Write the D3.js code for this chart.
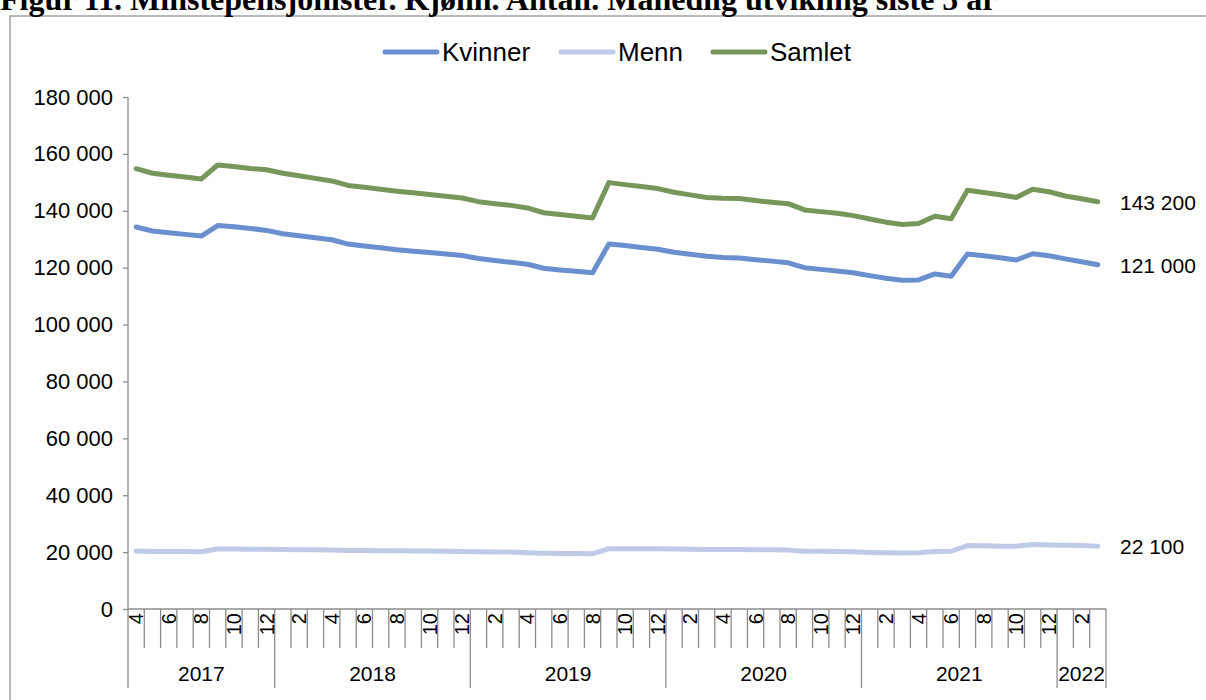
<!DOCTYPE html>
<html>
<head>
<meta charset="utf-8">
<script src="https://cdn.jsdelivr.net/npm/d3@7.9.0/dist/d3.min.js"></script>
<style>
  body { margin: 0; background: #fff; }
  svg { display: block; }
  text { font-family: "Liberation Sans", Arial, sans-serif; fill: #000; }
</style>
</head>
<body>
<svg width="1206" height="700"></svg>
<script>
// months Apr 2017 - Mar 2022
const months = [4,5,6,7,8,9,10,11,12,
  1,2,3,4,5,6,7,8,9,10,11,12,
  1,2,3,4,5,6,7,8,9,10,11,12,
  1,2,3,4,5,6,7,8,9,10,11,12,
  1,2,3,4,5,6,7,8,9,10,11,12,
  1,2,3];
const years = ['2017', '2018', '2019', '2020', '2021', '2022'];
const yearLengths = [9, 12, 12, 12, 12, 3];

const kvinner = [134300,132900,132300,131700,131100,134800,134400,133800,133100,
  131900,131200,130500,129800,128300,127600,127000,126300,125800,125300,124800,124300,
  123200,122500,121900,121200,119800,119200,118700,118200,128300,127800,127100,126500,
  125400,124700,124000,123600,123400,122800,122300,121700,120000,119400,118800,118200,
  117200,116300,115600,115700,117800,117000,124800,124200,123500,122700,124900,124200,
  123100,122100,121000];
const menn = [20400,20200,20200,20200,20100,21100,21100,21000,21000,
  20900,20800,20800,20700,20600,20600,20500,20500,20400,20400,20300,20200,
  20100,20000,20000,19800,19600,19500,19500,19400,21200,21200,21200,21200,
  21100,21000,20900,20900,20900,20800,20800,20700,20300,20300,20200,20100,
  19900,19800,19700,19800,20200,20300,22300,22200,22100,22100,22700,22500,
  22400,22300,22100];
const samlet = [154800,153200,152500,151900,151200,156100,155600,154900,154400,
  153200,152300,151400,150500,148900,148300,147600,146900,146300,145700,145100,144500,
  143200,142500,141900,141000,139300,138700,138100,137500,149900,149200,148500,147800,
  146500,145600,144700,144400,144300,143600,143000,142500,140300,139700,139100,138300,
  137100,136000,135200,135500,138100,137200,147200,146400,145600,144700,147600,146700,
  145200,144200,143200];

const seriesNames = ['Kvinner', 'Menn', 'Samlet'];
const endLabels = ['121 000', '22 100', '143 200'];
const yTicks = [0, 20000, 40000, 60000, 80000, 100000, 120000, 140000, 160000, 180000];

const colors = ['#6a8fce', '#bfcae8', '#77975a'];
const allSeries = [kvinner, menn, samlet];

const svg = d3.select('svg');
const plotLeft = 128, plotRight = 1106, plotTop = 97, plotBottom = 609;

// frame + title (title is cut at the top in the original)
svg.append('rect')
  .attr('x', 10).attr('y', 16).attr('width', 1230).attr('height', 720)
  .attr('fill', 'none').attr('stroke', '#8c8c8c').attr('stroke-width', 1.2);
svg.append('text')
  .attr('x', 0).attr('y', 10)
  .style('font-family', '"Liberation Serif", "Times New Roman", serif')
  .style('font-weight', 'bold').style('font-size', '32px')
  .text('Figur 11. Minstepensjonister. Kjønn. Antall. Månedlig utvikling siste 5 år');

const x = d3.scaleBand().domain(d3.range(months.length)).range([plotLeft, plotRight]);
const y = d3.scaleLinear().domain([0, 180000]).range([plotBottom, plotTop]);

const fmt = v => d3.format(',')(v).replace(/,/g, ' ');

// y axis
const yAxis = svg.append('g')
  .attr('transform', `translate(${plotLeft},0)`)
  .call(d3.axisLeft(y).tickValues(yTicks).tickSize(5).tickPadding(10).tickFormat(fmt));
yAxis.selectAll('line, path').attr('stroke', '#8c8c8c').attr('stroke-width', 1.3);
yAxis.selectAll('text').style('font-size', '22px').style('font-family', '"Liberation Sans", Arial, sans-serif');
yAxis.select('.domain').attr('d', `M0,${plotTop}V${plotBottom}`);

// x axis baseline
svg.append('line')
  .attr('x1', plotLeft).attr('x2', plotRight).attr('y1', plotBottom).attr('y2', plotBottom)
  .attr('stroke', '#8c8c8c').attr('stroke-width', 1.3);

// month ticks at category boundaries, longer at year boundaries
const bw = x.bandwidth();
const boundaries = d3.range(months.length + 1);
let yearStarts = [0];
yearLengths.forEach((n, i) => yearStarts.push(yearStarts[i] + n));

svg.append('g').selectAll('line')
  .data(boundaries)
  .join('line')
  .attr('x1', d => plotLeft + d * bw).attr('x2', d => plotLeft + d * bw)
  .attr('y1', plotBottom)
  .attr('y2', d => yearStarts.includes(d) ? 688 : 648)
  .attr('stroke', '#8c8c8c').attr('stroke-width', 1.3);

// month labels, every second
svg.append('g').selectAll('text')
  .data(months.map((m, i) => ({m, i})).filter(d => d.i % 2 === 0))
  .join('text')
  .attr('transform', d => `translate(${x(d.i) + bw / 2},${plotBottom + 4}) rotate(-90)`)
  .attr('text-anchor', 'end')
  .attr('dy', '0.35em')
  .style('font-size', '20px')
  .text(d => d.m);

// year labels
svg.append('g').selectAll('text')
  .data(years)
  .join('text')
  .attr('x', (d, i) => plotLeft + (yearStarts[i] + yearLengths[i] / 2) * bw)
  .attr('y', 681)
  .attr('text-anchor', 'middle')
  .style('font-size', '21px')
  .text(d => d);

// lines + end labels
const line = d3.line().x((d, i) => x(i) + bw / 2).y(d => y(d));
allSeries.forEach((s, k) => {
  svg.append('path')
    .datum(s)
    .attr('d', line)
    .attr('fill', 'none')
    .attr('stroke', colors[k])
    .attr('stroke-width', 5)
    .attr('stroke-linejoin', 'round')
    .attr('stroke-linecap', 'round');
  svg.append('text')
    .attr('x', 1120)
    .attr('y', y(s[s.length - 1]) + 1)
    .attr('dy', '0.35em')
    .style('font-size', '21px')
    .text(endLabels[k]);
});

// legend
const legendX = [383, 559, 711];
const legend = svg.append('g');
seriesNames.forEach((name, k) => {
  legend.append('line')
    .attr('x1', legendX[k] + 2).attr('x2', legendX[k] + 54)
    .attr('y1', 52).attr('y2', 52)
    .attr('stroke', colors[k]).attr('stroke-width', 5).attr('stroke-linecap', 'round');
  legend.append('text')
    .attr('x', legendX[k] + 59).attr('y', 52).attr('dy', '0.35em')
    .style('font-size', '26px')
    .text(name);
});
</script>
</body>
</html>
